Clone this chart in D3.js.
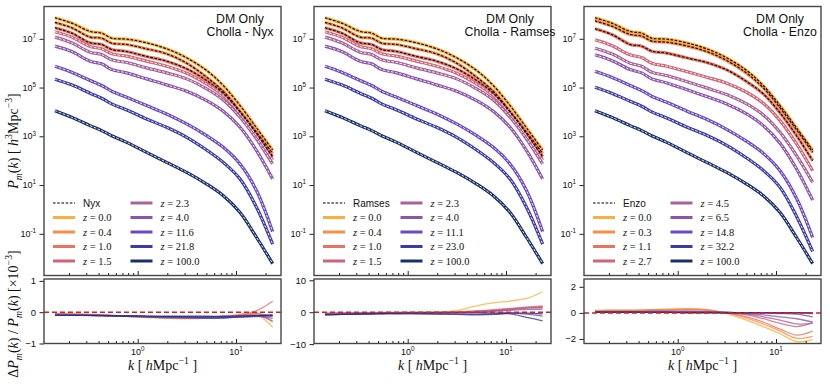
<!DOCTYPE html>
<html>
<head>
<meta charset="utf-8">
<script src="https://cdn.jsdelivr.net/npm/d3@7"></script>
<style>
  body { margin: 0; background: #fff; }
  text { white-space: pre; }
</style>
</head>
<body>
<div id="chart"></div>
<script>
// wavenumbers (h/Mpc) where the curves were read
var kVals = [0.144, 0.213, 0.328, 0.43, 0.544, 0.773, 1.23, 1.97, 3.15, 5.03, 7.43, 11.0, 16.2, 23.6];

var colors = ["#fcb03c", "#f98f45", "#e8735e", "#cf6577", "#a8629a", "#8b54ad", "#6a49c1", "#3b3ba8", "#1b2f6a"];

var zNyx    = ["0.0", "0.4", "1.0", "1.5", "2.3", "4.0", "11.6", "21.8", "100.0"];
var zRamses = ["0.0", "0.4", "1.0", "1.5", "2.3", "4.0", "11.1", "23.0", "100.0"];
var zEnzo   = ["0.0", "0.3", "1.1", "2.7", "4.5", "6.5", "14.8", "32.2", "100.0"];

// P(k) [h^-3 Mpc^3], Nyx / Ramses outputs
var pkCholla = [
  [7.29e7, 4.40e7, 2.0e7, 1.71e7, 1.06e7, 9.7e6, 6.85e6, 3.88e6, 1.66e6, 5.0e5, 1.21e5, 1.82e4, 2.2e3, 274],
  [4.69e7, 2.83e7, 1.17e7, 1.06e7, 6.6e6, 5.85e6, 3.88e6, 2.42e6, 1.0e6, 2.65e5, 7.06e4, 1.06e4, 1.46e3, 200],
  [2.83e7, 1.71e7, 6.84e6, 5.85e6, 3.64e6, 3.01e6, 1.88e6, 1.21e6, 5.85e5, 1.94e5, 5.85e4, 9.7e3, 1.25e3, 146],
  [1.94e7, 1.17e7, 4.84e6, 3.88e6, 2.42e6, 1.94e6, 1.21e6, 7.52e5, 3.88e5, 1.41e5, 4.69e4, 8.26e3, 1.06e3, 106],
  [1.17e7, 6.84e6, 2.83e6, 2.27e6, 1.37e6, 1.06e6, 6.43e5, 4.0e5, 2.27e5, 8.81e4, 3.11e4, 6.03e3, 776, 72.9],
  [4.99e6, 3.01e6, 1.21e6, 9.38e5, 5.48e5, 4.0e5, 2.27e5, 1.29e5, 7.06e4, 2.92e4, 1.06e4, 2.34e3, 258, 17.6],
  [7.52e5, 4.27e5, 1.94e5, 1.21e5, 7.06e4, 4.0e4, 1.82e4, 8.26e3, 3.21e3, 1.06e3, 353, 72.9, 5.85, 0.121],
  [2.20e5, 1.29e5, 5.85e4, 3.64e4, 2.13e4, 1.21e4, 5.15e3, 2.34e3, 910, 274, 85.3, 17.6, 1.21, 0.0376],
  [1.13e4, 6.03e3, 2.74e3, 1.71e3, 1.06e3, 566, 220, 85.3, 33.1, 11.0, 3.64, 0.752, 0.0706, 0.00603]
];

// P(k), Enzo outputs
var pkEnzo = [
  [7.29e7, 4.40e7, 2.0e7, 1.71e7, 1.06e7, 9.7e6, 6.85e6, 3.88e6, 1.66e6, 5.0e5, 1.21e5, 1.82e4, 2.2e3, 274],
  [5.48e7, 3.31e7, 1.51e7, 1.29e7, 8.02e6, 7.29e6, 5.15e6, 3.01e6, 1.29e6, 3.88e5, 9.68e4, 1.46e4, 1.82e3, 220],
  [2.58e7, 1.51e7, 5.85e6, 4.99e6, 3.11e6, 2.58e6, 1.66e6, 1.06e6, 5.32e5, 1.76e5, 5.48e4, 9.1e3, 1.06e3, 100],
  [9.1e6, 5.32e6, 2.20e6, 1.71e6, 1.0e6, 7.52e5, 4.54e5, 2.65e5, 1.51e5, 6.43e4, 2.27e4, 4.40e3, 484, 38.8],
  [4.13e6, 2.42e6, 1.0e6, 7.52e5, 4.27e5, 3.11e5, 1.76e5, 9.68e4, 5.15e4, 2.13e4, 7.52e3, 1.46e3, 160, 12.9],
  [2.20e6, 1.29e6, 5.48e5, 4.0e5, 2.27e5, 1.55e5, 8.26e4, 4.27e4, 2.13e4, 8.26e3, 2.74e3, 515, 45.4, 2.42],
  [4.69e5, 2.65e5, 1.21e5, 7.52e4, 4.40e4, 2.49e4, 1.10e4, 4.99e3, 1.94e3, 622, 200, 38.8, 2.83, 0.0706],
  [1.03e5, 5.85e4, 2.74e4, 1.71e4, 1.0e4, 5.66e3, 2.42e3, 1.10e3, 427, 129, 40.0, 8.02, 0.515, 0.0188],
  [1.13e4, 6.03e3, 2.74e3, 1.71e3, 1.06e3, 566, 220, 85.3, 33.1, 11.0, 3.64, 0.752, 0.0706, 0.00603]
];

// relative difference x 1e-3
var resNyx = [
  [-0.05, -0.06, -0.08, -0.1, -0.12, -0.14, -0.17, -0.2, -0.21, -0.2, -0.17, -0.13, -0.08, -0.48],
  [-0.05, -0.06, -0.08, -0.09, -0.11, -0.13, -0.15, -0.18, -0.19, -0.18, -0.15, -0.11, -0.02, -0.32],
  [-0.05, -0.06, -0.07, -0.08, -0.1, -0.12, -0.14, -0.16, -0.17, -0.16, -0.13, -0.07, 0.05, 0.35],
  [-0.06, -0.07, -0.08, -0.09, -0.1, -0.12, -0.14, -0.16, -0.17, -0.17, -0.15, -0.1, -0.05, -0.15],
  [-0.07, -0.08, -0.09, -0.1, -0.11, -0.13, -0.15, -0.17, -0.18, -0.18, -0.17, -0.13, -0.1, -0.28],
  [-0.08, -0.09, -0.1, -0.11, -0.12, -0.13, -0.15, -0.17, -0.18, -0.19, -0.18, -0.15, -0.12, -0.2],
  [-0.09, -0.1, -0.1, -0.11, -0.12, -0.13, -0.14, -0.16, -0.17, -0.18, -0.18, -0.16, -0.14, -0.12],
  [-0.1, -0.1, -0.11, -0.11, -0.12, -0.13, -0.14, -0.15, -0.16, -0.17, -0.17, -0.15, -0.12, -0.08],
  [-0.1, -0.1, -0.1, -0.11, -0.11, -0.12, -0.12, -0.13, -0.13, -0.13, -0.13, -0.12, -0.11, -0.1]
];
var resRamses = [
  [-0.3, -0.2, -0.2, -0.1, -0.1, 0, 0, 0.1, 0.5, 2.0, 2.9, 3.5, 4.3, 6.4],
  [-0.3, -0.2, -0.2, -0.2, -0.1, -0.1, 0, 0, 0.1, 0.3, 0.6, 1.0, 1.4, 1.8],
  [-0.4, -0.3, -0.3, -0.2, -0.2, -0.1, -0.1, 0, 0.1, 0.4, 0.8, 1.2, 1.6, 2.0],
  [-0.5, -0.4, -0.3, -0.3, -0.2, -0.2, -0.1, -0.1, 0, 0.3, 0.6, 1.0, 1.5, 1.7],
  [-0.5, -0.4, -0.4, -0.3, -0.3, -0.2, -0.2, -0.1, 0, 0.2, 0.5, 0.8, 1.3, 1.5],
  [-0.6, -0.5, -0.4, -0.4, -0.3, -0.3, -0.2, -0.2, -0.1, 0, 0.3, 0.6, 0.9, 1.0],
  [-0.7, -0.6, -0.5, -0.5, -0.4, -0.4, -0.4, -0.5, -0.6, -0.7, -0.6, -0.3, -0.6, -1.2],
  [-0.8, -0.7, -0.6, -0.5, -0.5, -0.5, -0.5, -0.6, -0.7, -0.8, -0.7, -0.5, -1.6, -2.7],
  [-0.8, -0.7, -0.6, -0.5, -0.4, -0.3, -0.2, -0.2, -0.2, -0.2, -0.3, -0.2, -0.3, -0.5]
];
var resEnzo = [
  [0.2, 0.2, 0.2, 0.25, 0.25, 0.3, 0.3, 0.25, -0.05, -0.55, -1.05, -1.6, -2.2, -2.05],
  [0.15, 0.2, 0.2, 0.2, 0.25, 0.25, 0.3, 0.25, 0, -0.4, -0.85, -1.4, -1.95, -1.8],
  [0.1, 0.15, 0.15, 0.15, 0.2, 0.2, 0.25, 0.2, 0, -0.3, -0.7, -1.25, -1.7, -1.4],
  [0.1, 0.1, 0.1, 0.1, 0.15, 0.15, 0.15, 0.1, 0, -0.15, -0.45, -0.8, -1.05, -0.75],
  [0.05, 0.05, 0.1, 0.1, 0.1, 0.1, 0.1, 0.05, 0, -0.1, -0.3, -0.55, -0.85, -0.8],
  [0.05, 0.05, 0.05, 0.05, 0.05, 0.05, 0.05, 0.05, 0, -0.05, -0.15, -0.3, -0.45, -0.7],
  [0.05, 0.05, 0.05, 0.05, 0.05, 0.05, 0.05, 0.05, 0.05, 0, 0, -0.05, -0.1, -0.3],
  [0.05, 0.05, 0.05, 0.05, 0.05, 0.05, 0, 0, 0, 0, 0, 0, 0, -0.05],
  [0.05, 0.05, 0.05, 0.05, 0.04, 0.04, 0.03, 0.03, 0.03, 0.02, 0.02, 0.02, 0.02, 0.02]
];

var yTopTicks = [1e-1, 1e1, 1e3, 1e5, 1e7];
var xMajor = [1, 10];
var xMinor = [0.2, 0.3, 0.4, 0.5, 0.6, 0.7, 0.8, 0.9, 2, 3, 4, 5, 6, 7, 8, 9, 20];

var panels = [
  {code: "Nyx",    zs: zNyx,    pk: pkCholla, res: resNyx,    dom: [-1.0, 1.06],  ticks: [-1, 0, 1]},
  {code: "Ramses", zs: zRamses, pk: pkCholla, res: resRamses, dom: [-9.8, 10.4],  ticks: [-10, 0, 10]},
  {code: "Enzo",   zs: zEnzo,   pk: pkEnzo,   res: resEnzo,   dom: [-2.35, 2.6],  ticks: [-2, 0, 2]}
];

var W = 830, H = 390;
var panelLeft = [44, 314, 584], pw = 237;
var topY = 6.5, topH = 269, botY = 279, botH = 64.5;
var sans = "'Liberation Sans', Arial, Helvetica, sans-serif";
var serif = "'Liberation Serif', 'Times New Roman', serif";
var frameColor = "#464646";

var svg = d3.select("#chart").append("svg")
  .attr("width", W).attr("height", H);

function rich(t, parts, size) {
  var cur = 0;
  parts.forEach(function(p) {
    var off = p.s === "sup" ? -0.42 * size : (p.s === "sub" ? 0.25 * size : 0);
    t.append("tspan")
      .attr("dy", off - cur)
      .attr("font-size", p.s ? size * 0.7 : size)
      .attr("font-style", p.i ? "italic" : "normal")
      .attr("font-family", p.f || serif)
      .text(p.t);
    cur = off;
  });
}

function tickStyle(a) {
  a.select(".domain").remove();
  a.selectAll("line").attr("stroke", "#222");
}

var x = d3.scaleLog().domain([0.1114, 28.7]).range([0, pw]);
var yTop = d3.scaleLog().domain([Math.pow(10, -2.71), Math.pow(10, 8.325)]).range([topH, 0]);

panels.forEach(function(P, pi) {
  var g = svg.append("g").attr("transform", "translate(" + panelLeft[pi] + "," + topY + ")");

  var line = d3.line()
    .curve(d3.curveCatmullRom.alpha(0.5))
    .x(function(d, i) { return x(kVals[i]); })
    .y(function(d) { return yTop(d); });

  // cholla curves + dashed reference code
  P.pk.forEach(function(s, si) {
    g.append("path").datum(s)
      .attr("d", line).attr("fill", "none")
      .attr("stroke", colors[si]).attr("stroke-width", 3.2)
      .attr("stroke-linejoin", "round");
  });
  P.pk.forEach(function(s, si) {
    g.append("path").datum(s)
      .attr("d", line).attr("fill", "none")
      .attr("stroke", si < 3 ? "#000" : "#fff")
      .attr("stroke-width", si < 3 ? 1.1 : 0.9)
      .attr("stroke-dasharray", "2.6,1.6");
  });

  // axes
  g.append("g").attr("transform", "translate(0," + topH + ")")
    .call(d3.axisBottom(x).tickValues(xMajor).tickSize(-4.5).tickFormat(""))
    .call(tickStyle);
  g.append("g").attr("transform", "translate(0," + topH + ")")
    .call(d3.axisBottom(x).tickValues(xMinor).tickSize(-2.5).tickFormat(""))
    .call(tickStyle);
  g.append("g")
    .call(d3.axisLeft(yTop).tickValues(yTopTicks).tickSize(4.5).tickFormat(""))
    .call(tickStyle);

  yTopTicks.forEach(function(v) {
    var t = g.append("text").attr("x", -8).attr("y", yTop(v) + 3)
      .attr("text-anchor", "end").attr("fill", "#111");
    rich(t, [{t: "10", f: sans}, {t: String(Math.round(Math.log10(v))), s: "sup", f: sans}], 9);
  });

  g.append("rect").attr("width", pw).attr("height", topH)
    .attr("fill", "none").attr("stroke", frameColor).attr("stroke-width", 1.4);

  // label
  g.append("text").attr("x", 196).attr("y", 16).attr("text-anchor", "middle")
    .attr("font-family", sans).attr("font-size", 12.3).attr("fill", "#111").text("DM Only");
  g.append("text").attr("x", 196).attr("y", 29.5).attr("text-anchor", "middle")
    .attr("font-family", sans).attr("font-size", 12.3).attr("fill", "#111").text("Cholla - " + P.code);

  // legend
  var rowY = [196.5, 211, 225.5, 240, 254.5];
  var lg = g.append("g");
  lg.append("line").attr("x1", 9).attr("x2", 31).attr("y1", rowY[0]).attr("y2", rowY[0])
    .attr("stroke", "#000").attr("stroke-width", 1.1).attr("stroke-dasharray", "2.6,1.6");
  lg.append("text").attr("x", 39).attr("y", rowY[0] + 3.6)
    .attr("font-family", sans).attr("font-size", 10).attr("fill", "#111").text(P.code);
  P.zs.forEach(function(z, si) {
    var col = si < 4 ? 0 : 1;
    var row = si < 4 ? si + 1 : si - 4;
    var x0 = col === 0 ? 9 : 86.5;
    lg.append("line").attr("x1", x0).attr("x2", x0 + 22).attr("y1", rowY[row]).attr("y2", rowY[row])
      .attr("stroke", colors[si]).attr("stroke-width", 3);
    var t = lg.append("text").attr("x", x0 + 30).attr("y", rowY[row] + 3.6).attr("fill", "#111");
    rich(t, [{t: "z", i: true}, {t: " = " + z}], 10.5);
  });

  // residual panel
  var yb = d3.scaleLinear().domain(P.dom).range([botH, 0]);
  var gb = svg.append("g").attr("transform", "translate(" + panelLeft[pi] + "," + botY + ")");
  var rline = d3.line()
    .curve(d3.curveCatmullRom.alpha(0.5))
    .x(function(d, i) { return x(kVals[i]); })
    .y(function(d) { return yb(d); });

  P.res.forEach(function(s, si) {
    gb.append("path").datum(s)
      .attr("d", rline).attr("fill", "none")
      .attr("stroke", colors[si]).attr("stroke-width", 1.3)
      .attr("stroke-opacity", 0.8);
  });
  gb.append("line").attr("x1", 0).attr("x2", pw).attr("y1", yb(0)).attr("y2", yb(0))
    .attr("stroke", "#e41a1c").attr("stroke-width", 1.5).attr("stroke-dasharray", "5,3");

  gb.append("g").attr("transform", "translate(0," + botH + ")")
    .call(d3.axisBottom(x).tickValues(xMajor).tickSize(-4.5).tickFormat(""))
    .call(tickStyle);
  gb.append("g").attr("transform", "translate(0," + botH + ")")
    .call(d3.axisBottom(x).tickValues(xMinor).tickSize(-2.5).tickFormat(""))
    .call(tickStyle);
  gb.append("g")
    .call(d3.axisLeft(yb).tickValues(P.ticks).tickSize(4.5).tickFormat(""))
    .call(tickStyle);

  P.ticks.forEach(function(v) {
    gb.append("text").attr("x", -8).attr("y", yb(v) + 3.5)
      .attr("text-anchor", "end").attr("font-family", sans).attr("font-size", 9.5)
      .attr("fill", "#111").text(v < 0 ? "\u2212" + Math.abs(v) : String(v));
  });
  xMajor.forEach(function(v) {
    var t = gb.append("text").attr("x", x(v)).attr("y", botH + 11)
      .attr("text-anchor", "middle").attr("fill", "#111");
    rich(t, [{t: "10", f: sans}, {t: String(Math.round(Math.log10(v))), s: "sup", f: sans}], 9);
  });

  gb.append("rect").attr("width", pw).attr("height", botH)
    .attr("fill", "none").attr("stroke", frameColor).attr("stroke-width", 1.4);

  var xl = gb.append("text").attr("x", pw / 2).attr("y", 91).attr("text-anchor", "middle").attr("fill", "#111");
  rich(xl, [{t: "k", i: true}, {t: " [ "}, {t: "h", i: true}, {t: "Mpc"}, {t: "\u22121", s: "sup"}, {t: " ]"}], 14);
});

// y labels
var yl1 = svg.append("text").attr("transform", "translate(18," + (topY + topH / 2) + ") rotate(-90)")
  .attr("text-anchor", "middle").attr("fill", "#111");
rich(yl1, [{t: "P", i: true}, {t: "m", i: true, s: "sub"}, {t: "("}, {t: "k", i: true}, {t: ") [ "},
  {t: "h", i: true}, {t: "3", s: "sup"}, {t: "Mpc"}, {t: "\u22123", s: "sup"}, {t: "]"}], 14);

var yl2 = svg.append("text").attr("transform", "translate(18," + 314 + ") rotate(-90)")
  .attr("text-anchor", "middle").attr("fill", "#111");
rich(yl2, [{t: "\u0394"}, {t: "P", i: true}, {t: "m", i: true, s: "sub"}, {t: "("}, {t: "k", i: true}, {t: ") / "},
  {t: "P", i: true}, {t: "m", i: true, s: "sub"}, {t: "("}, {t: "k", i: true}, {t: ") [\u00d710"},
  {t: "\u22123", s: "sup"}, {t: "]"}], 14);
</script>
</body>
</html>
